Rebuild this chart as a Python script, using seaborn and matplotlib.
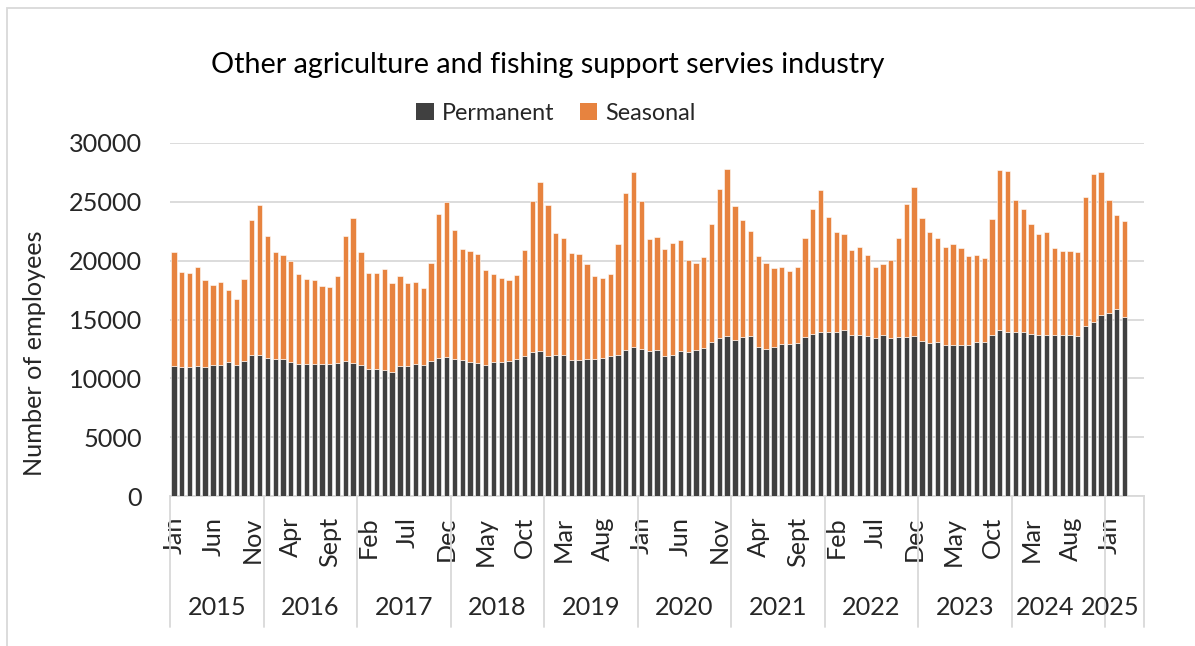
import matplotlib
matplotlib.use("Agg")
import matplotlib.pyplot as plt
import matplotlib.transforms as mtransforms
from matplotlib.patches import Rectangle, Patch
import numpy as np
import pandas as pd
import seaborn as sns

# Monthly employee counts, Jan 2015 - Mar 2025
years = [2015, 2016, 2017, 2018, 2019, 2020, 2021, 2022, 2023, 2024, 2025]
month_names = ["Jan", "Feb", "Mar", "Apr", "May", "Jun",
               "Jul", "Aug", "Sept", "Oct", "Nov", "Dec"]

permanent = [
    11020, 10930, 10930, 11020, 10930, 11160, 11160, 11360, 11100, 11440, 12010, 12010,  # 2015
    11750, 11670, 11610, 11360, 11220, 11220, 11220, 11220, 11220, 11300, 11440, 11300,  # 2016
    11160, 10820, 10820, 10730, 10510, 11020, 11020, 11220, 11100, 11440, 11700, 11840,  # 2017
    11610, 11550, 11360, 11270, 11100, 11360, 11360, 11440, 11670, 11860, 12200, 12290,  # 2018
    11860, 11950, 11950, 11530, 11530, 11610, 11670, 11750, 11860, 11980, 12430, 12630,  # 2019
    12510, 12290, 12370, 11860, 11980, 12290, 12200, 12370, 12570, 13050, 13390, 13560,  # 2020
    13220, 13500, 13590, 12680, 12510, 12630, 12910, 12910, 12990, 13530, 13810, 13980,  # 2021
    13900, 13980, 14120, 13700, 13700, 13590, 13390, 13700, 13390, 13500, 13500, 13560,  # 2022
    13190, 12990, 13110, 12800, 12800, 12850, 12850, 13110, 13110, 13700, 14100, 13980,  # 2023
    13900, 13980, 13810, 13700, 13700, 13700, 13700, 13700, 13590, 14490, 14830, 15420,  # 2024
    15590, 15900, 15230,                                                                # 2025
]
seasonal = [
    9690, 8140, 8020, 8470, 7430, 6780, 7010, 6160, 5650, 7010, 11470, 12680,   # 2015
    10340, 9100, 8870, 8590, 7630, 7200, 7120, 6610, 6530, 7430, 10650, 12290,  # 2016
    9550, 8110, 8110, 8590, 7600, 7710, 7090, 6980, 6580, 8390, 12260, 13160,   # 2017
    10960, 9440, 9440, 9290, 8140, 7510, 7180, 6920, 7090, 9010, 12910, 14410,  # 2018
    12850, 10420, 10000, 9100, 9070, 8110, 7060, 6750, 6980, 9440, 13310, 14940,  # 2019
    12540, 9520, 9630, 9150, 9520, 9440, 7880, 7400, 7740, 10090, 12660, 14270,   # 2020
    11440, 9940, 8930, 7710, 7260, 6750, 6580, 6190, 6500, 8390, 10540, 12060,    # 2021
    9800, 8420, 8110, 7200, 7490, 6890, 6070, 6050, 6640, 8420, 11330, 12680,     # 2022
    10420, 9440, 8840, 8390, 8590, 8220, 7510, 7350, 7090, 9830, 13640, 13670,    # 2023
    11240, 10400, 9290, 8590, 8700, 7370, 7120, 7120, 7150, 10900, 12510, 12090,  # 2024
    9550, 7940, 8140,                                                             # 2025
]

# Category slots: 12 months per year, 2025 axis runs Jan-May
slots = [f"{y}-{m + 1:02d}" for y in years[:-1] for m in range(12)]
slots += [f"2025-{m + 1:02d}" for m in range(5)]
slot_month = [month_names[int(s[5:]) - 1] for s in slots]

n_data = len(permanent)
df = pd.DataFrame({
    "period": slots[:n_data],
    "Permanent": permanent,
    "Seasonal": seasonal,
})

DARK = "#404040"
ORANGE = "#E7833F"
GRID = "#D9D9D9"
TEXT = "#262626"
FONT = ["Lato", "DejaVu Sans"]
FS = 18.2

sns.set_theme(style="white")
plt.rcParams["font.family"] = FONT

W, H = 1195, 646
fig = plt.figure(figsize=(W / 100, H / 100), dpi=100)
ax = fig.add_axes([170 / W, 150 / H, 974 / W, 353 / H])

bar_kw = dict(order=slots, width=0.68, saturation=1, errorbar=None,
              edgecolor="white", linewidth=0.4, ax=ax, zorder=3)
sns.barplot(data=df, x="period", y="Permanent", color=DARK, **bar_kw)
sns.barplot(data=df, x="period", y="Seasonal", color=ORANGE,
            bottom=df["Permanent"].to_numpy(), **bar_kw)

ax.set_xlim(-0.5, len(slots) - 0.5)
ax.set_ylim(0, 30000)
ax.set_yticks(np.arange(0, 30001, 5000))
ax.set_yticklabels([f"{v}" for v in range(0, 30001, 5000)], fontsize=FS,
                   color=TEXT)
ax.yaxis.grid(True, color=GRID, linewidth=1.3, zorder=0)
ax.set_axisbelow(True)

# Month labels every fifth slot
tick_pos = list(range(0, len(slots), 5))
ax.set_xticks(tick_pos)
ax.set_xticklabels([slot_month[i] for i in tick_pos], rotation=90,
                   fontsize=FS, color=TEXT)
ax.tick_params(axis="x", length=0, pad=15)
ax.tick_params(axis="y", length=0, pad=20)
ax.set_xlabel("")
ax.set_ylabel("")

for side in ["top", "right", "left"]:
    ax.spines[side].set_visible(False)
ax.spines["bottom"].set_color(GRID)
ax.spines["bottom"].set_linewidth(1.3)

# Year group separators and year labels
trans = mtransforms.blended_transform_factory(ax.transData, ax.transAxes)
bounds = [i * 12 - 0.5 for i in range(len(years))] + [len(slots) - 0.5]
for b in bounds:
    ax.plot([b, b], [0, -0.372], transform=trans, color=GRID,
            linewidth=1.3, clip_on=False, zorder=1)
year_centers = [i * 12 + 5.5 for i in range(len(years) - 2)] + [111.8, 120.1]
for cx, y in zip(year_centers, years):
    ax.text(cx, -0.315, str(y), transform=trans, ha="center", va="center",
            fontsize=FS, color=TEXT)

# Axis title, chart title, legend
fig.text(35 / W, 1 - 353 / H, "Number of employees", rotation=90,
         ha="center", va="center", fontsize=FS, color=TEXT)
fig.text(548 / W, 1 - 65 / H,
         "Other agriculture and fishing support servies industry",
         ha="center", va="center", fontsize=20.7, color="black")

handles = [Patch(facecolor=DARK, edgecolor="none", label="Permanent"),
           Patch(facecolor=ORANGE, edgecolor="none", label="Seasonal")]
leg = fig.legend(handles=handles, loc="center", bbox_to_anchor=(556 / W, 1 - 113 / H),
                 ncol=2, frameon=False, fontsize=16.8, handlelength=0.75,
                 handleheight=0.75, handletextpad=0.35, columnspacing=1.1)
for t in leg.get_texts():
    t.set_color(TEXT)

# Chart area border
fig.patches.append(Rectangle((7 / W, -0.1), 1.2, 1.1 - 8 / H,
                             transform=fig.transFigure, fill=False,
                             edgecolor=GRID, linewidth=1.3))

fig.savefig("out.png", dpi=100, facecolor="white")
